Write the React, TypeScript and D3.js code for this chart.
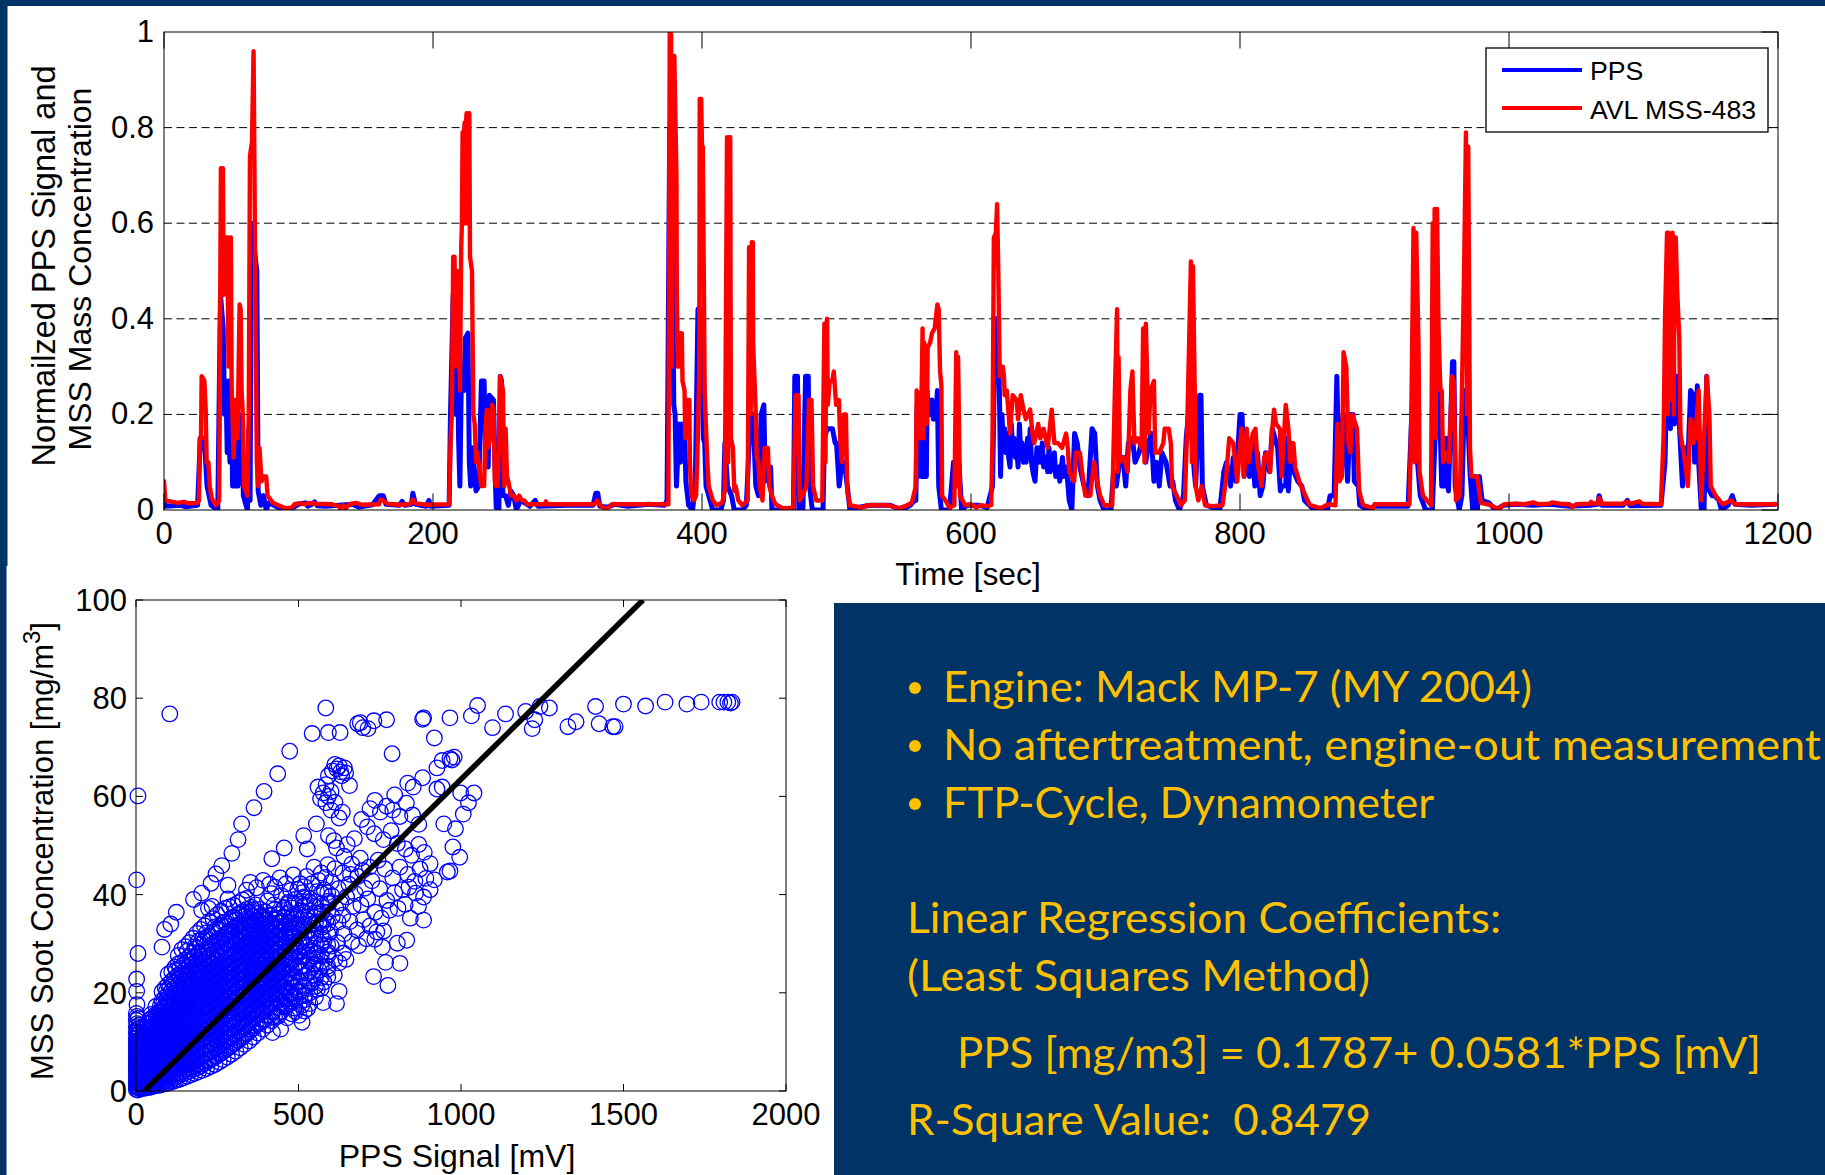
import React from "react";
import * as d3 from "d3";

const NAVY = "#003366";
const GOLD = "#FFC000";
const FONT = "'Liberation Sans', Arial, sans-serif";

const timeTicks = [0, 200, 400, 600, 800, 1000, 1200];
const levelTicks = [0, 0.2, 0.4, 0.6, 0.8, 1];
const levelLabels = ["0", "0.2", "0.4", "0.6", "0.8", "1"];
const ppsTicks = [0, 500, 1000, 1500, 2000];
const sootTicks = [0, 20, 40, 60, 80, 100];
const legendNames = ["PPS", "AVL MSS-483"];

type P = [number, number];

const avlBurstA: P[] = [[0,.06],[1,.02],[10,.015],[15,.017],[18,.014],[25,.015],[26,.02],[26.6,.15],[27.5,.15],[28,.28],[30,.27],[31,.21],[31.7,.1],[33,.1],[34,.05],[35.5,.025],[38.5,.01],[41,.02],[42.3,.715],[43.8,.715],[44.4,.45],[45.3,.57],[47,.57],[48,.3],[48.8,.57],[49.7,.57],[50.3,.26],[51.8,.11],[53.3,.23],[54.7,.15],[56.2,.43],[57,.42],[57.7,.25],[58.6,.2],[59.5,.05],[62.1,.03],[63,.2],[63.9,.74],[65.4,.77],[66.6,.96],[67.8,.5],[69,.1],[70,.05],[71,.13],[72.5,.06],[74,.07],[76,.07],[77,.03],[81,.015],[85,.01],[90,.004],[95,.005],[97,.012],[100,.014],[105,.012],[108,.015],[112,.013],[125,.012],[130,.008],[131,.002],[133,.01],[135,.003],[138,.012],[143,.015],[147,.011],[160,.012],[161,.022],[163,.02],[166,.013],[175,.011],[183,.012],[185,.022],[187,.014],[195,.011],[212,.012]];
const avlBurstB: P[] = [[213,.14],[214,.2],[215,.53],[216,.53],[217,.3],[218,.5],[219,.48],[220,.25],[221,.55],[221.5,.6],[222,.79],[222.8,.6],[223,.79],[223.5,.81],[224,.6],[224.5,.81],[225,.83],[225.5,.6],[226,.82],[226.5,.83],[227,.83],[227.5,.53],[229,.5],[230,.2],[231,.18],[232,.1],[233,.12],[235,.07],[236,.05],[238,.05],[239,.17],[240,.21],[241,.13],[243,.16],[244,.22],[245,.21],[246,.06],[247,.05],[248,.05],[249,.13],[250,.28],[252,.25],[253,.05],[254,.17],[255,.07],[256,.06],[258,.03],[260,.03],[262,.02],[264,.03],[266,.02],[268,.02],[270,.012],[283,.012],[284,.018],[285,.012],[320,.012],[322,.02],[324,.012],[326,.005],[330,.004],[333,.012],[375,.012]];
const avlBurstC: P[] = [[376,1],[377,1],[377.6,.3],[378.2,.95],[379.4,.95],[381,.7],[381.3,.45],[382,.3],[383,.3],[384,.37],[385,.37],[385.5,.27],[387,.25],[387.6,.15],[389,.23],[390.6,.23],[391,.1],[392,.03],[394,.02],[395.6,.03],[396.5,.1],[398,.3],[398.3,.86],[399.4,.86],[400,.76],[400.6,.76],[402,.25],[403,.17],[404,.1],[405,.05],[408,.02],[411,.01],[415,.015],[417,.04],[418.6,.78],[419.5,.1],[420.2,.78],[421,.78],[421.5,.15],[423,.13],[424,.04],[425,.05],[427,.02],[430,.01],[434,.02],[435,.55],[436.2,.2],[437,.56],[437.8,.56],[438,.35],[440,.2],[440.7,.11],[442,.1],[442.8,.05],[445,.02],[446.6,.13],[449,.13],[450,.05],[452,.03],[454.6,.012],[460,.004],[468,.005],[469.6,.24],[471.7,.24],[472.6,.02],[474.6,.03],[477.6,.05],[479.6,.23],[481.4,.23],[482.6,.05],[485,.02],[489.4,.02],[491,.39],[491.8,.1],[492.4,.38],[493,.4],[493.5,.22],[495,.27],[497,.27],[498,.29],[499.7,.22],[501.8,.23],[502.7,.15],[504,.1],[505.6,.2],[507,.2],[508,.04],[510,.01],[519,.005],[523,.01],[537.5,.01],[547,.004],[551,.008],[556,.015]];
const avlBurstD: P[] = [[559,.05],[559.6,.25],[561,.24],[562,.15],[563,.2],[564,.38],[564.8,.15],[565.3,.35],[566.7,.3],[567.2,.18],[567.8,.34],[569.6,.35],[571,.37],[573,.38],[575,.43],[576,.42],[577,.29],[578,.26],[578.5,.03],[581,.02],[584,.005],[587.6,.01],[589,.33],[589.7,.05],[590.4,.32],[591.8,.03],[595.6,.01],[600,.012],[604,.005],[607,.01],[612,.008],[615,.01],[616,.15],[617,.57],[618.5,.58],[619.4,.64],[620.3,.5],[621.4,.28],[622.6,.28],[623.6,.3],[624.5,.28],[625,.24],[626.6,.25],[628,.2],[629,.16],[631,.24],[634,.23],[635,.19],[637,.24],[639,.21],[640.8,.19],[644,.21],[645.7,.16],[647,.14],[650,.18],[651.5,.15],[654,.17],[657,.13],[660,.21],[662,.14],[664.8,.14],[667.7,.13],[670.7,.16],[672,.13],[673,.08],[676.7,.06],[678,.12],[681,.12],[682.6,.08],[685,.03],[688.6,.03],[691.5,.1],[693,.07],[696,.03],[699,.01],[705,.01],[707,.25],[708.6,.42],[709.2,.08],[709.7,.32],[710.7,.1],[713.6,.11],[716.5,.08],[718.5,.25],[720,.29],[721.5,.14],[724,.15],[726.8,.13],[728,.38],[729,.1],[730,.39],[732,.16],[733.5,.25],[736,.27],[737,.12],[740,.12],[743,.14],[744,.17],[747,.17],[748.6,.14],[749.5,.05],[753,.03],[756,.01],[759,.02],[761,.2],[763.5,.52],[764.2,.1],[765,.51],[766.5,.22],[767,.05],[769,.02],[771.5,.05],[774,.01],[780,.008],[787,.01]];
const avlBurstE: P[] = [[789.4,.06],[792,.15],[795,.14],[798,.06],[801,.17],[803,.07],[805,.17],[806.6,.1],[809.5,.16],[811.5,.17],[813,.1],[816,.05],[818,.11],[820,.12],[822.4,.08],[824,.17],[825.3,.21],[826.8,.18],[829.6,.17],[831,.07],[834,.22],[836,.17],[837.4,.1],[839.7,.14],[841,.09],[844,.06],[847,.04],[852,.01],[860,.004],[865.6,.012],[871,.01],[872.5,.18],[874,.06],[875.7,.07],[877,.33],[879,.3],[880.6,.14],[882,.12],[883.5,.2],[887,.17],[888.6,.04],[891.5,.01],[899,.004],[900,.012],[926,.012],[927.4,.2],[929,.59],[930,.1],[931,.58],[932.7,.35],[933.5,.08],[936,.03],[939,.02],[942,.01],[943.3,.6],[944.2,.2],[944.7,.63],[945.5,.15],[946.5,.63],[947.6,.38],[949,.25],[950,.25],[951,.1],[953.4,.12],[955.4,.1],[957.7,.28],[959,.27],[960.6,.02],[963.5,.03],[965,.25],[966.6,.5],[968,.79],[968.8,.2],[969.7,.76],[971,.13],[972,.07],[974.4,.07],[976.4,.07],[979,.015],[986.5,.01],[992,.002],[996.6,.012],[1005,.013],[1012,.012],[1018,.016],[1022,.012],[1030,.013],[1032,.016],[1038,.013],[1045,.012],[1047,.006],[1050,.012],[1060,.013],[1061,.017],[1063,.013],[1066,.014],[1067,.025],[1069,.013],[1085,.013],[1088,.018],[1090,.013],[1097,.018],[1099,.013],[1113,.012]];
const avlBurstF: P[] = [[1115,.16],[1116,.4],[1117.5,.58],[1118.1,.2],[1118.7,.58],[1119.7,.25],[1120.8,.23],[1121.6,.58],[1122.5,.2],[1123.2,.57],[1124,.57],[1125,.46],[1126.6,.36],[1127.5,.16],[1130.4,.11],[1133,.05],[1135,.19],[1137,.14],[1138.5,.15],[1141,.25],[1143,.02],[1145,.15],[1147,.28],[1149,.2],[1150,.05],[1153.6,.03],[1156.4,.02],[1159,.012],[1165,.02],[1168,.012],[1198,.012]];

const ppsBurstA: P[] = [[0,.02],[1,.008],[12,.01],[16,.007],[25,.01],[27,.15],[30,.15],[32,.05],[35,.01],[40,0],[42,.45],[44,.38],[45,.2],[46,.27],[47,.12],[48,.27],[49,.1],[50,.25],[51,.05],[53,.05],[54,.23],[55,.05],[57,.12],[58,.2],[59,.03],[62,0],[63,.17],[64,.02],[65,.6],[67,.55],[69,.5],[70,.04],[72,.01],[74,.03],[76,0],[78,.015],[85,.005],[90,0],[95,.003],[100,.012],[105,.015],[107,.008],[110,.012],[112,.017],[114,.009],[120,.008],[130,.01],[140,.012],[145,.006],[155,.011],[160,.03],[163,.03],[165,.012],[175,.01],[177,.018],[179,.01],[184,.012],[185,.035],[187,.012],[195,.008],[197,.02],[198,.008],[212,.01]];
const ppsBurstB: P[] = [[213,.2],[215,.45],[217,.2],[218,.4],[219,.15],[220,.05],[221,.26],[223,.25],[224,.36],[226,.37],[227,.1],[228,.05],[229,.13],[231,.07],[232,.04],[234,.05],[236,.27],[238,.27],[239,.13],[241,.09],[242,.24],[245,.23],[246,.1],[247,.005],[249,0],[250,.28],[251,.27],[252,.03],[254,.03],[256,.01],[258,.04],[260,.03],[262,0],[265,.02],[270,.012],[272,.008],[276,.02],[278,.008],[300,.01],[319,.01],[321,.035],[322.5,.035],[324,.008],[330,.006],[335,.012],[345,.008],[360,.012],[372,.01],[374,.02]];
const ppsBurstC: P[] = [[376,.8],[378,.75],[379,.22],[380,.2],[381,.05],[383,.18],[384,.1],[385,.18],[386,.13],[387,.18],[388,.06],[390,.01],[393,0],[395,.05],[397,.42],[399,.42],[401,.15],[402,.14],[403,.05],[405,.03],[408,0],[414,0],[416,.02],[417,.14],[419,.05],[422,.03],[424,0],[430,0],[433,.01],[436,.2],[438,.2],[440,.05],[442,.03],[444,.2],[446,.22],[447,.06],[449,.09],[451,.09],[452,0],[456,0],[468,0],[469,.28],[471,.28],[472,0],[475,0],[477,.28],[479,.28],[480,.05],[482,0],[490,0],[491,.15],[493,.17],[494,.17],[497,.17],[499,.14],[500,.14],[502,.05],[504,.1],[506,.1],[508,.05],[510,0],[515,.005],[525,.01],[540,.01],[548,0],[555,.01],[558,.02]];
const ppsBurstD: P[] = [[559,.02],[560,.22],[561,.07],[562,.2],[563,.07],[563.7,.22],[564.4,.07],[565,.24],[565.6,.07],[566.2,.23],[566.8,.07],[567.4,.25],[568,.2],[569,.23],[570,.2],[571,.23],[572,.19],[573,.22],[574,.19],[575,.25],[576,.05],[578,0],[584,0],[587,.1],[589,.05],[591,.1],[593,0],[597,.01],[606,.01],[612,.005],[616,.05],[618,.4],[619,.4],[621,.27],[622,.07],[623,.2],[624,.14],[625,.17],[626,.12],[627,.16],[628,.11],[629,.09],[630,.18],[631,.12],[632,.15],[633,.11],[634,.13],[635,.09],[636,.18],[637,.12],[638,.14],[639,.1],[640,.13],[641,.1],[642,.15],[643,.11],[644,.17],[645,.1],[646,.08],[647.6,.06],[649,.13],[650,.1],[651,.13],[652,.1],[653,.14],[654,.09],[656,.11],[657,.08],[658,.13],[659,.08],[660,.11],[661,.09],[662,.12],[663,.07],[665,.09],[666,.06],[668,.11],[669,.07],[671,.09],[673,.02],[675,0],[677,.16],[679,.14],[681,.09],[684,.05],[687,.03],[690,.17],[692,.16],[694,.05],[696,.02],[699,0],[704,0],[706,.08],[708,.05],[710,.09],[713,.11],[715,.05],[717,.14],[720,.15],[722,.1],[725,.12],[728,.16],[730,.1],[732,.14],[734,.16],[736,.06],[738,.1],[740,.05],[742,.12],[745,.1],[748,.05],[750,.06],[752,.02],[755,0],[758,.03],[760,.15],[762,.21],[764,.16],[766,.08],[767,.05],[770,.24],[771,.24],[772,.05],[775,.01],[785,0],[788,.08]];
const ppsBurstE: P[] = [[790,.1],[793,.05],[795,.11],[797,.06],[800,.2],[801.5,.2],[803,.07],[805,.14],[807,.07],[809,.15],[811,.05],[813,.12],[815,.03],[817,.05],[819,.12],[822,.08],[824,.17],[826,.15],[828,.13],[830,.04],[831,.05],[834,.05],[835,.15],[836,.04],[838,.14],[840,.08],[843,.06],[846,.05],[848,.02],[855,0],[865,0],[867,.03],[870,.03],[872,.28],[873,.15],[875,.17],[877,.2],[880,.06],[882,.2],[884,.2],[885,.06],[888,.05],[889,.01],[895,0],[900,.008],[925,.008],[928,.22],[930,.24],[932,.1],[934,.03],[938,0],[943,0],[945,.15],[947,.25],[949,.15],[950,.05],[952,.05],[953,.15],[955,.04],[958,.31],[959,.31],[960,.05],[963,0],[965,.03],[967,.25],[968.5,.25],[971,.08],[973,0],[975,.07],[976.5,0],[978,.07],[980,.02],[985,.015],[990,0],[996,.01],[1005,.012],[1018,.01],[1030,.012],[1045,.008],[1060,.01],[1066,.012],[1067,.03],[1069,.01],[1085,.01],[1088,.02],[1090,.009],[1113,.01]];
const ppsBurstF: P[] = [[1116,.1],[1118,.38],[1120,.17],[1121,.4],[1122,.37],[1123,.18],[1125,.28],[1127,.16],[1129,.05],[1131,.13],[1133,.1],[1135,.25],[1137,.24],[1138,.1],[1140,.26],[1141,.1],[1143,0],[1145,0],[1147,.28],[1149,.04],[1151,.03],[1153,.03],[1156,.02],[1158,0],[1163,.01],[1166,.03],[1168,.012],[1180,.01],[1198,.012]];

const avlSeries: P[] = [...avlBurstA, ...avlBurstB, ...avlBurstC, ...avlBurstD, ...avlBurstE, ...avlBurstF];
const ppsSeries: P[] = [...ppsBurstA, ...ppsBurstB, ...ppsBurstC, ...ppsBurstD, ...ppsBurstE, ...ppsBurstF];

const scatterOutliers: P[] = [[104,76.8],[584,78],[542,72.8],[592,73],[628,73],[682,74.8],[690,75],[698,74],[714,73.8],[732,75.4],[771,75.6],[882,75.7],[885,76],[966,76],[918,71.9],[1032,76.4],[1051,78.5],[1097,74],[1137,76.8],[1199,77.3],[1227,75.6],[1219,73.8],[1243,78.3],[1272,78],[1329,74.2],[1354,75.2],[1414,78.3],[1425,74.8],[1467,74.2],[1474,74.2],[1500,78.8],[1568,78.4],[1628,79.2],[1695,78.8],[1739,79.2],[1796,79.2],[1809,79.2],[1821,79.2],[1829,79],[1834,79.2],[788,68.7],[473,69.2],[436,64.6],[394,61],[363,57.7],[325,54.4],[314,51.2],[295,48.4],[264,45.9],[246,44.2],[231,42.3],[202,40.3],[177,39],[283,41.9],[283,39.1],[234,37.6],[223,37.2],[202,36.8],[124,36.4],[107,34],[88,32.9],[80,29.3],[6,60.1],[2,43],[6,28],[2,22.8],[2,20.3],[3,17.6],[47,15.6]];
const scatterUpper: P[] = [[612,66.5],[625,66.2],[641,65.8],[618,65.6],[630,65],[604,65.2],[645,64.8],[592,64.2],[633,64.2],[657,62.2],[560,61.9],[576,60.7],[600,61],[585,62.4],[568,59.5],[584,58.7],[592,60],[600,57.2],[612,58.8],[625,55.6],[635,56.8],[555,54.4],[592,52],[516,52],[456,49.5],[527,49.3],[617,49.5],[609,51],[418,47.3],[979,68],[966,67.7],[972,67.4],[926,65.8],[942,67.3],[882,63.8],[836,62.7],[796,60.3],[853,61.9],[926,61.5],[942,61.9],[1040,60.7],[999,60.7],[1023,58.7],[1007,56.4],[947,54.4],[983,53.4],[975,49.7],[996,47.6],[966,44.8],[958,44.6],[918,43],[885,39.5],[885,34.8],[869,37.6],[844,35.2],[833,30.7],[804,30.1],[812,26],[768,26.2],[731,23.3],[775,21.5],[758,29.3],[625,20.3],[576,18],[617,17.8],[511,14]];
const scatterMiddle: P[] = [[735,59.2],[720,57.5],[752,56.8],[771,58],[790,57.2],[812,55.9],[832,58.6],[851,56.2],[870,54.3],[694,55.3],[712,53.8],[733,52.4],[761,51.2],[785,53],[804,50.4],[829,49.3],[848,48],[870,50.2],[887,48.6],[905,46.3],[672,51.4],[650,50.2],[640,47.8],[664,46.2],[690,47.4],[718,45.6],[745,47],[766,45.2],[790,43.4],[812,45.6],[836,44.1],[858,42.7],[874,45.2],[892,43.3],[905,41],[860,40.3],[840,41.5],[820,41],[796,40.4],[772,38.8],[750,41.2],[726,42.8],[704,41.3],[682,43.7],[660,44.1],[637,44.4],[612,45.3],[590,46.1],[570,44.4],[548,45.6],[525,43.7],[505,42.2],[484,44],[462,42.2],[443,43.4],[427,41.5],[411,42.1],[391,42.9],[371,41.4],[352,42.5],[340,40.9],[623,41.2],[601,42.6],[579,41],[556,40.6],[534,39.2],[512,40.4],[490,39],[468,38.4],[447,39.8],[425,37.9],[405,38.7],[648,39.5],[668,37.6],[692,37.9],[713,39.1],[736,36.4],[755,35.2],[780,36.8],[806,37.2],[828,38],[720,33.6],[741,32.4],[700,34.9],[680,32.8],[658,34.5],[636,35.8],[615,37.2],[593,38.2],[573,36.5],[551,37.4],[530,35.4],[508,36.7],[489,35],[472,34.2],[640,32],[664,30.4],[685,29.6],[709,31],[735,30.9],[762,32.6],[620,30.2],[598,32.4],[575,33.4],[552,31.6],[530,32.8],[510,30.5],[638,28.1],[612,26.9],[590,28.3],[568,29.7],[545,28.4],[525,29.2],[505,27.4],[590,24.8],[610,23.6],[578,22.2],[563,24.6],[545,25.9],[528,24],[558,20.7],[540,21.9],[520,19.6],[501,22.5],[492,25.6],[510,17.4],[528,16.8],[490,18.9],[480,15.7],[465,14.9],[445,12.6],[420,11.9],[583,43.5],[562,42.9],[541,42.2],[519,41.6],[498,41.1],[476,40.8],[456,37.2],[436,35.9],[417,40.2],[602,39.8],[630,38.3],[655,42.1],[675,40.2],[697,44.9],[622,34.4],[604,35.5],[585,34.9],[563,34.3],[541,34],[521,37.9],[499,33.1],[481,31.9],[493,29.6],[514,33.9],[535,30.9],[558,27.9],[579,30.7],[601,29.5],[625,26.1],[646,26.8],[512,25.6],[535,27.1],[517,21.4],[552,23],[571,26.4],[481,22.7],[497,20.3],[474,19.8],[458,17.6],[491,16.2],[438,15.2]];

const denseX = [1,6,13,21,29,38,47,56,66,75,85,94,104,115,124,135,146,158,169,181,192,205,217,230,243,256,268,281,294,307,321,334,348,361,375,390,404,418,433,447,462,478];
const denseY: number[][] = [
  [.3,1.2,2.1,2.9,3.8,4.6,5.3,6.2,7.1,7.9,8.8,9.6,10.7,11.9,13.1,14.4,15.8],
  [.2,.9,1.7,2.6,3.3,4.4,5.1,6,6.8,7.7,8.5,9.4,10.9,12.6,14.8],
  [.4,1.1,2,2.8,3.7,4.5,5.6,6.4,7.3,8.2,9.1,10.3,12],
  [.5,1.3,2.2,3.1,3.9,4.8,5.7,6.5,7.4,8.6,9.8,11.2],
  [.6,1.5,2.3,3.2,4.2,5,5.9,6.9,7.8,8.9,10.1,11.5,13],
  [.7,1.4,2.5,3.4,4.3,5.2,6.1,7.2,8.3,9.5,10.6,12.1],
  [.8,1.7,2.6,3.6,4.7,5.5,6.6,7.5,8.7,9.9,11.1,12.4,14],
  [1,1.9,2.9,3.9,4.9,5.9,7,8.1,9.2,10.4,11.7,13.1,14.7],
  [1.1,2,3.1,4.1,5.3,6.3,7.4,8.5,9.7,11,12.2,13.6,15.2],
  [1.2,2.3,3.4,4.5,5.6,6.7,7.9,9.1,10.3,11.6,12.9,14.3,15.9,17.4],
  [1.4,2.5,3.7,4.8,6,7.2,8.4,9.6,10.9,12.2,13.5,14.8,16.3,18],
  [1.5,2.8,3.9,5.2,6.4,7.6,8.8,10.1,11.4,12.7,14.1,15.5,17,18.7,20.4],
  [1.7,3,4.3,5.5,6.8,8.1,9.3,10.6,11.9,13.2,14.6,16,17.6,19.3,21.2],
  [2,3.3,4.6,5.9,7.2,8.5,9.8,11.2,12.5,13.9,15.3,16.7,18.2,19.9,22],
  [2.2,3.6,4.9,6.3,7.7,9,10.3,11.7,13,14.4,15.8,17.3,18.9,20.5,22.6,24.6],
  [2.4,3.9,5.3,6.7,8,9.5,10.9,12.2,13.7,15,16.5,18,19.6,21.1,23,25],
  [2.7,4.1,5.6,7,8.5,10,11.4,12.8,14.2,15.7,17.1,18.6,20.1,21.7,23.5,25.6],
  [3,4.5,5.9,7.4,8.9,10.4,11.9,13.3,14.8,16.2,17.7,19.2,20.7,22.3,24.1,26.3,28.5],
  [3.3,4.8,6.3,7.8,9.4,10.9,12.4,13.9,15.4,16.9,18.3,19.8,21.3,22.9,24.6,26.8],
  [3.6,5.1,6.7,8.2,9.8,11.3,12.9,14.5,15.9,17.5,19,20.5,22,23.6,25.2,27.3,29.4],
  [3.9,5.5,7,8.6,10.2,11.8,13.4,15,16.5,18,19.6,21.1,22.6,24.1,25.8,27.9,30.5],
  [4.2,5.9,7.5,9.1,10.7,12.3,13.9,15.5,17.1,18.6,20.2,21.7,23.2,24.8,26.4,28.4,31],
  [4.6,6.3,7.9,9.5,11.2,12.8,14.5,16.1,17.7,19.2,20.8,22.3,23.8,25.4,27,29,32.2],
  [5,6.7,8.3,10,11.6,13.3,15,16.6,18.2,19.8,21.4,22.9,24.4,26,27.6,29.7,31.4],
  [5.4,7.1,8.8,10.5,12.1,13.8,15.5,17.2,18.8,20.4,22,23.5,25,26.6,28.2,30.3,33.4],
  [5.9,7.6,9.3,11,12.7,14.4,16.1,17.8,19.4,21,22.6,24.1,25.6,27.2,28.8,30.8,33],
  [6.4,8.1,9.9,11.6,13.3,15,16.7,18.4,20,21.6,23.2,24.7,26.2,27.8,29.4,31.4,34.3],
  [6.9,8.7,10.4,12.2,13.9,15.6,17.3,19,20.6,22.2,23.8,25.3,26.8,28.4,30,32.1,33.5],
  [7.5,9.3,11,12.8,14.5,16.2,17.9,19.6,21.2,22.8,24.4,25.9,27.4,29,30.6,32.6,35.3],
  [8.1,9.9,11.7,13.4,15.1,16.8,18.5,20.2,21.8,23.4,25,26.5,28,29.6,31.2,33.2,34.8],
  [8.8,10.6,12.4,14.1,15.8,17.5,19.1,20.8,22.4,24,25.6,27.1,28.7,30.3,31.9,33.8,36],
  [9.5,11.3,13.1,14.8,16.5,18.2,19.8,21.4,23,24.6,26.2,27.8,29.4,31,32.6,34.3,35.6],
  [10.2,12,13.8,15.5,17.2,18.9,20.5,22.1,23.7,25.3,26.9,28.5,30.1,31.7,33.2,34.9,36.4],
  [11,12.8,14.6,16.3,18,19.6,21.2,22.8,24.4,26,27.6,29.2,30.8,32.4,34,35.5,36.9],
  [11.8,13.6,15.4,17.1,18.7,20.3,21.9,23.5,25.1,26.7,28.3,29.9,31.5,33.1,34.7,36.1],
  [12.6,14.4,16.2,17.9,19.5,21.1,22.7,24.3,25.9,27.5,29.1,30.7,32.3,33.9,35.4],
  [13.4,15.2,17,18.7,20.3,21.9,23.5,25.1,26.7,28.3,29.9,31.5,33.2,34.8],
  [14.3,16.1,17.8,19.5,21.1,22.7,24.3,25.9,27.5,29.1,30.8,32.4,34.1],
  [15.2,17,18.7,20.3,22,23.6,25.2,26.8,28.4,30.1,31.7,33.4,35.2],
  [16.2,17.9,19.6,21.2,22.9,24.5,26.1,27.7,29.4,31,32.7,34.6],
  [17.2,18.9,20.5,22.2,23.8,25.4,27.1,28.7,30.4,32.1,33.8,36],
  [18.3,19.9,21.6,23.2,24.9,26.5,28.2,29.8,31.5,33.3,35.2,37.3],
];
const fillX = [3,9,17,25,33,42,52,61,70,80,90,99,110,120,130,141,152,164,175,187,199,211,224,237,250,262,275,288,301,314,328,341,355,368,382,397,411,426,440,455,470,486,502,518,535,552,570,590];
const fillY: number[][] = [
  [.7,1.6,2.4,3.5,4.1,5.6,6.6,7.4,8.3,9.2,10.1,11.4,12.3,13.7,15.2],
  [.6,1.4,2.3,3,4,4.9,5.5,6.5,7.2,8.1,9,10,11.6,13.4],
  [.9,1.5,2.5,3.4,4.2,5.2,6.1,6.9,7.8,8.7,9.6,10.9],
  [.7,1.8,2.7,3.5,4.4,5.4,6.2,7.1,8,9.2,10.5,12.5],
  [1,1.9,2.8,3.7,4.6,5.5,6.5,7.4,8.4,9.5,10.8,12.2,13.8],
  [1.1,2.1,3,4,4.9,5.8,6.8,7.8,8.9,10.1,11.4,12.8,14.5],
  [1.2,2.4,3.3,4.3,5.3,6.3,7.3,8.4,9.5,10.7,12,13.4,15],
  [1.4,2.5,3.5,4.6,5.6,6.7,7.7,8.8,10,11.2,12.5,14,15.6,17.2],
  [1.6,2.7,3.8,4.9,6,7.1,8.1,9.3,10.5,11.8,13.1,14.5,16.1],
  [1.8,2.9,4.1,5.2,6.4,7.5,8.7,9.9,11.1,12.4,13.8,15.2,16.7,18.4,20.2],
  [2,3.2,4.4,5.6,6.8,8,9.2,10.4,11.7,13,14.4,15.9,17.4,19.1,21],
  [2.3,3.5,4.7,5.9,7.2,8.4,9.7,11,12.3,13.6,15,16.4,18,19.7,21.7,23.8],
  [2.5,3.8,5.1,6.4,7.7,9,10.2,11.5,12.8,14.2,15.7,17.1,18.7,20.4,22.4,24.3],
  [2.7,4.1,5.4,6.7,8,9.4,10.7,12.1,13.5,14.8,16.3,17.8,19.4,21,23,25.2],
  [3.1,4.4,5.8,7.2,8.6,10,11.3,12.7,14,15.5,16.9,18.4,20,21.7,23.6,25.9,27.6],
  [3.4,4.8,6.2,7.6,9,10.4,11.8,13.2,14.6,16,17.5,19,20.6,22.2,24,26.2,28.8],
  [3.7,5.2,6.6,8,9.5,10.9,12.4,13.8,15.2,16.7,18.2,19.6,21.2,22.8,24.7,26.7,29.4],
  [4,5.5,7,8.5,10,11.5,13,14.4,15.9,17.4,18.8,20.3,21.8,23.4,25.2,27.4,30.2],
  [4.4,5.9,7.5,9,10.5,12,13.5,15,16.5,18,19.5,21,22.5,24.1,25.9,28.2,31.1],
  [4.7,6.3,7.9,9.5,11,12.6,14.2,15.7,17.2,18.7,20.2,21.7,23.2,24.8,26.7,29.1,32.1],
  [5.1,6.8,8.4,10,11.6,13.2,14.8,16.3,17.9,19.4,20.9,22.4,23.9,25.5,27.4,29.8,32.9],
  [5.6,7.3,8.9,10.6,12.2,13.8,15.4,17,18.5,20.1,21.6,23.1,24.6,26.3,28.2,30.6,33.6],
  [6.1,7.8,9.5,11.2,12.8,14.4,16,17.6,19.2,20.7,22.3,23.8,25.3,27,29,31.6,34.5],
  [6.6,8.3,10,11.8,13.4,15.1,16.7,18.3,19.9,21.4,23,24.5,26,27.7,29.8,32.4,35.1],
  [7.1,8.9,10.6,12.4,14,15.7,17.3,18.9,20.5,22.1,23.6,25.2,26.7,28.5,30.5,33.1,35.9],
  [7.7,9.5,11.2,13,14.7,16.3,18,19.6,21.2,22.8,24.3,25.8,27.4,29.2,31.2,33.7,36.6],
  [8.3,10.1,11.9,13.6,15.3,17,18.6,20.2,21.8,23.4,25,26.5,28.1,29.9,31.9,34.4,37.2],
  [8.9,10.8,12.6,14.3,16,17.6,19.3,20.9,22.5,24.1,25.7,27.2,28.8,30.6,32.6,34.9,37.5],
  [9.6,11.5,13.3,15,16.7,18.3,20,21.6,23.2,24.8,26.4,28,29.6,31.3,33.2,35.4,37.8],
  [10.3,12.2,14,15.7,17.4,19,20.7,22.3,23.9,25.5,27.1,28.7,30.3,32,33.8,36,38.3],
  [11.1,13,14.8,16.5,18.2,19.8,21.4,23,24.6,26.2,27.8,29.4,31,32.7,34.5,36.5,38.9],
  [11.8,13.7,15.5,17.2,18.9,20.5,22.1,23.7,25.3,26.9,28.5,30.1,31.7,33.4,35.1,37,39.2],
  [12.6,14.4,16.2,17.9,19.6,21.3,22.9,24.5,26.1,27.7,29.3,30.9,32.5,34.1,35.7,37.4],
  [13.3,15.1,16.9,18.7,20.4,22,23.6,25.2,26.8,28.4,30,31.6,33.2,34.8,36.3,37.9],
  [14,15.8,17.7,19.4,21.1,22.7,24.4,26,27.6,29.2,30.8,32.4,34,35.6,37],
  [14.7,16.6,18.4,20.1,21.8,23.5,25.1,26.7,28.4,30,31.6,33.2,34.9,36.5],
  [15.4,17.3,19.1,20.9,22.6,24.2,25.9,27.5,29.2,30.8,32.5,34.1,35.8],
  [15.1,17.9,19.8,21.6,23.3,25,26.7,28.3,30,31.6,33.3,35,36.9],
  [16,18.6,20.5,22.3,24.1,25.8,27.5,29.2,30.9,32.5,34.3,36.1],
  [17.1,19.3,21.2,23,24.8,26.6,28.3,30,31.7,33.5,35.3,37.4],
  [18,20,21.9,23.8,25.6,27.4,29.2,30.9,32.6,34.4,36.3,38.2],
  [16.9,19.2,21.1,23.2,25,26.9,28.8,30.4,32.2,34.1,36,38.1],
  [15.4,17.7,20.1,22.3,24.4,26.3,28.1,30,31.9,33.8,35.9,38.4],
  [16.3,18.6,21,23.4,25.5,27.6,29.6,31.4,33.3,35.4,37.6,39.5],
  [17.8,20,22.2,24.5,26.6,28.7,30.8,32.6,34.6,36.7,38.4],
  [19.1,21.3,23.5,25.7,27.9,30,32.1,34.2,36.2,38.5],
  [20.9,23.1,25.3,27.5,29.7,31.9,34,36.1,38.1,40.3],
  [23.2,25.4,27.6,29.8,32,34.1,36.4,38.6,40.4],
];

const fitPps = [26, 1560];
const fitSoot = [0, 100];

const bulletLines = ["Engine: Mack MP-7 (MY 2004)", "No aftertreatment, engine-out measurement", "FTP-Cycle, Dynamometer"];
const noteLines = ["Linear Regression Coefficients:", "(Least Squares Method)", "PPS [mg/m3] = 0.1787+ 0.0581*PPS [mV]", "R-Square Value:  0.8479"];

const topBox = { l: 164, r: 1778, t: 32, b: 510 };
const lowBox = { l: 136, r: 786, t: 600, b: 1091 };
const bulletLayout = [
  { y: 702, w: 589 },
  { y: 760, w: 878 },
  { y: 818, w: 491 },
];
const noteLayout = [
  { x: 907, y: 933, w: 594 },
  { x: 907, y: 991, w: 463 },
  { x: 957, y: 1068, w: 804 },
  { x: 907, y: 1135, w: 464 },
];

export default function App() {
  const tx = d3.scaleLinear().domain([0, 1200]).range([topBox.l, topBox.r]);
  const ty = d3.scaleLinear().domain([0, 1]).range([topBox.b, topBox.t]);
  const sx = d3.scaleLinear().domain([0, 2000]).range([lowBox.l, lowBox.r]);
  const sy = d3.scaleLinear().domain([0, 100]).range([lowBox.b, lowBox.t]);
  const line = d3.line<P>().x((d) => tx(d[0])).y((d) => ty(d[1])).curve(d3.curveLinear);
  const densePts: P[] = denseX.flatMap((x, i) => denseY[i].map((y) => [x, y] as P));
  const fillPts: P[] = fillX.flatMap((x, i) => fillY[i].map((y) => [x, y] as P));
  const allPts: P[] = [...scatterOutliers, ...scatterUpper, ...scatterMiddle, ...densePts, ...fillPts];
  const tickLen = 16.5;
  const sTick = 7;
  return (
    <svg width={1825} height={1175} style={{ position: "absolute", left: 0, top: 0, display: "block", background: "#fff" }} fontFamily={FONT}>
      <rect x={0} y={0} width={1825} height={6} fill={NAVY} />
      <rect x={0} y={0} width={7.5} height={566} fill={NAVY} />
      <rect x={0} y={566} width={6.5} height={609} fill={NAVY} />
      <rect x={834} y={603} width={991} height={572} fill={NAVY} />

      <defs>
        <clipPath id="topClip"><rect x={topBox.l} y={topBox.t} width={topBox.r - topBox.l} height={topBox.b - topBox.t} /></clipPath>
        <clipPath id="lowClip"><rect x={lowBox.l} y={lowBox.t} width={lowBox.r - lowBox.l} height={lowBox.b - lowBox.t} /></clipPath>
      </defs>

      {levelTicks.slice(1, -1).map((v) => (
        <line key={v} x1={topBox.l} x2={topBox.r} y1={ty(v)} y2={ty(v)} stroke="#000" strokeWidth={1} strokeDasharray="8 4.5" />
      ))}
      <g clipPath="url(#topClip)" fill="none" strokeLinejoin="round" strokeLinecap="round">
        <path d={line(ppsSeries) as string} stroke="#0000ff" strokeWidth={5} />
        <path d={line(avlSeries) as string} stroke="#ff0000" strokeWidth={4.4} />
      </g>
      <rect x={topBox.l} y={topBox.t} width={topBox.r - topBox.l} height={topBox.b - topBox.t} fill="none" stroke="#000" strokeWidth={1} />
      {timeTicks.map((v) => (
        <g key={v}>
          <line x1={tx(v)} x2={tx(v)} y1={topBox.b} y2={topBox.b - tickLen} stroke="#000" />
          <line x1={tx(v)} x2={tx(v)} y1={topBox.t} y2={topBox.t + tickLen} stroke="#000" />
          <text x={tx(v)} y={544} textAnchor="middle" fontSize={31}>{v}</text>
        </g>
      ))}
      {levelTicks.map((v, i) => (
        <g key={v}>
          <line x1={topBox.r} x2={topBox.r - tickLen} y1={ty(v)} y2={ty(v)} stroke="#000" />
          <text x={154} y={ty(v) + 10} textAnchor="end" fontSize={31}>{levelLabels[i]}</text>
        </g>
      ))}
      <text x={968} y={585} textAnchor="middle" fontSize={31.8}>Time [sec]</text>
      <text transform="translate(55,266) rotate(-90)" textAnchor="middle" fontSize={32.5}>Normailzed PPS Signal and</text>
      <text transform="translate(91,269) rotate(-90)" textAnchor="middle" fontSize={32}>MSS Mass Concentration</text>

      <rect x={1486} y={48} width={282} height={84} fill="#fff" stroke="#000" strokeWidth={1.3} />
      {legendNames.map((name, i) => (
        <g key={name}>
          <line x1={1502} x2={1582} y1={70 + i * 38} y2={70 + i * 38} stroke={i === 0 ? "#0000ff" : "#ff0000"} strokeWidth={4.2} />
          <text x={1590} y={80 + i * 38.5} fontSize={26.7}>{name}</text>
        </g>
      ))}

      <g fill="none" stroke="#0000ff" strokeWidth={1.3}>
        {allPts.map((d, i) => (
          <circle key={i} cx={sx(d[0])} cy={sy(d[1])} r={7.8} />
        ))}
      </g>
      <g clipPath="url(#lowClip)">
        <line x1={sx(fitPps[0])} x2={sx(fitPps[1])} y1={sy(fitSoot[0])} y2={sy(fitSoot[1])} stroke="#000" strokeWidth={5.5} />
      </g>
      <rect x={lowBox.l} y={lowBox.t} width={lowBox.r - lowBox.l} height={lowBox.b - lowBox.t} fill="none" stroke="#000" strokeWidth={1} />
      {ppsTicks.map((v) => (
        <g key={v}>
          <line x1={sx(v)} x2={sx(v)} y1={lowBox.b} y2={lowBox.b - sTick} stroke="#000" />
          <line x1={sx(v)} x2={sx(v)} y1={lowBox.t} y2={lowBox.t + sTick} stroke="#000" />
          <text x={sx(v)} y={1125} textAnchor="middle" fontSize={31}>{v}</text>
        </g>
      ))}
      {sootTicks.map((v) => (
        <g key={v}>
          <line x1={lowBox.r} x2={lowBox.r - sTick} y1={sy(v)} y2={sy(v)} stroke="#000" />
          <line x1={lowBox.l} x2={lowBox.l + sTick} y1={sy(v)} y2={sy(v)} stroke="#000" />
          <text x={127} y={sy(v) + 11} textAnchor="end" fontSize={31}>{v}</text>
        </g>
      ))}
      <text x={457} y={1167} textAnchor="middle" fontSize={32}>PPS Signal [mV]</text>
      <text transform="translate(53,851) rotate(-90)" textAnchor="middle" fontSize={31}>
        MSS Soot Concentration [mg/m<tspan fontSize={24} dy={-13}>3</tspan><tspan dy={13}>]</tspan>
      </text>

      <g fill={GOLD} fontFamily="Lato, 'Noto Sans', sans-serif" fontSize={43}>
        {bulletLines.map((s, i) => (
          <g key={s}>
            <circle cx={915} cy={bulletLayout[i].y - 14} r={6} />
            <text x={943} y={bulletLayout[i].y} textLength={bulletLayout[i].w} lengthAdjust="spacingAndGlyphs">{s}</text>
          </g>
        ))}
        {noteLines.map((s, i) => (
          <text key={s} x={noteLayout[i].x} y={noteLayout[i].y} textLength={noteLayout[i].w} lengthAdjust="spacingAndGlyphs" xmlSpace="preserve">{s}</text>
        ))}
      </g>
    </svg>
  );
}
